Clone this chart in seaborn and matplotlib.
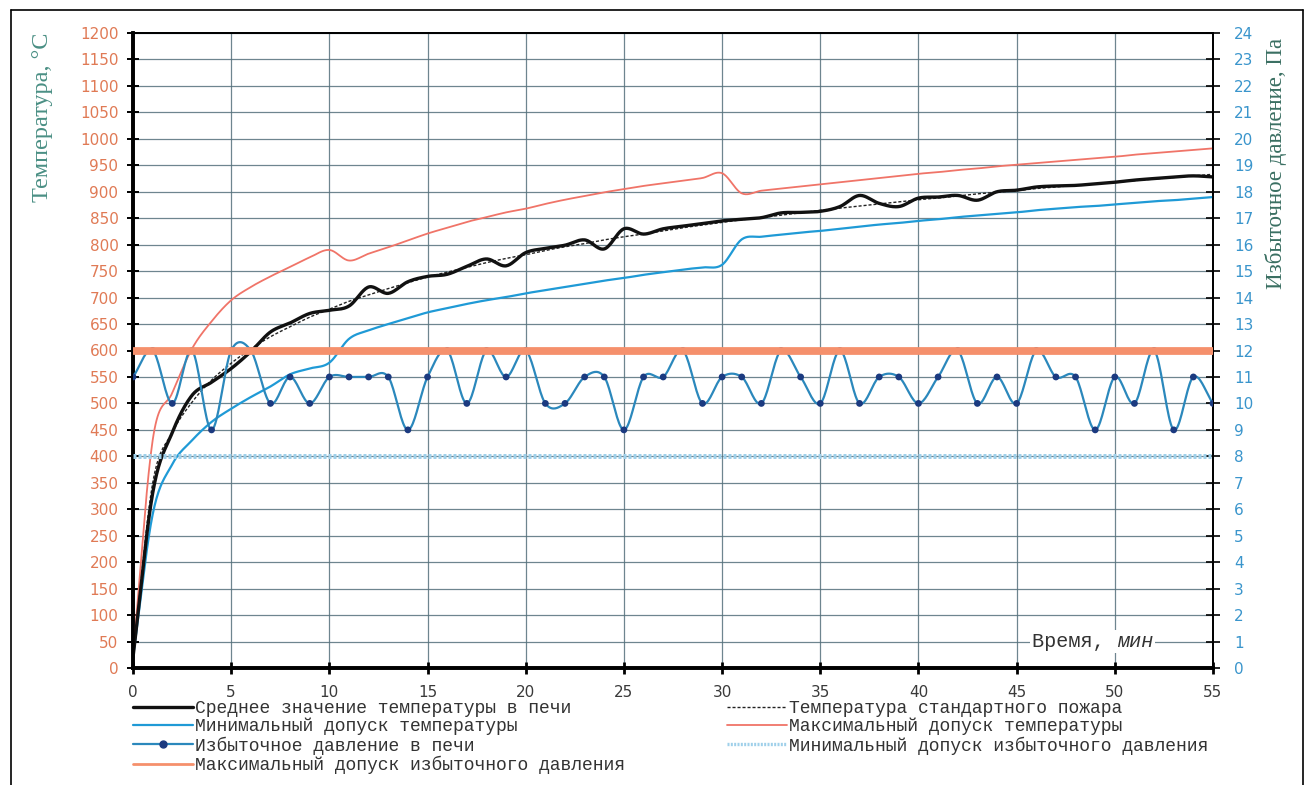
import numpy as np
import pandas as pd
import matplotlib
matplotlib.use("Agg")
import matplotlib.pyplot as plt
from matplotlib.lines import Line2D
import seaborn as sns

# ---- data -------------------------------------------------------------
minutes = list(range(56))

avg_temp = [20, 330, 445, 515, 540, 566, 598, 635, 652, 670,
            676, 684, 720, 708, 730, 740, 744, 759, 773, 760,
            785, 793, 799, 809, 792, 830, 820, 830, 835, 840,
            845, 848, 851, 860, 861, 863, 872, 893, 878, 872,
            888, 890, 893, 884, 900, 903, 909, 911, 912, 915,
            918, 922, 925, 928, 930, 928]

std_fire = [20, 349, 445, 502, 544, 576, 603, 626, 645, 663,
            678, 693, 705, 717, 728, 739, 748, 757, 766, 774,
            781, 789, 796, 802, 809, 815, 820, 826, 832, 837,
            842, 847, 851, 856, 860, 865, 869, 873, 877, 881,
            885, 888, 892, 896, 899, 902, 906, 909, 912, 915,
            918, 921, 924, 927, 930, 933]

min_temp_tol = [20, 290, 385, 430, 465, 490, 512, 532, 555, 566,
                577, 622, 638, 650, 661, 672, 680, 688, 695, 701,
                708, 714, 720, 726, 732, 737, 743, 748, 753, 757,
                762, 810, 815, 819, 823, 826, 830, 834, 838, 841,
                845, 848, 852, 855, 858, 861, 865, 868, 871, 873,
                876, 879, 882, 884, 887, 890]

max_temp_tol = [23, 430, 520, 603, 655, 695, 720, 740, 758, 776,
                790, 770, 783, 795, 808, 821, 832, 843, 852, 861,
                868, 877, 885, 892, 899, 905, 911, 916, 921, 926,
                935, 897, 902, 906, 910, 914, 918, 922, 926, 930,
                934, 937, 941, 944, 948, 951, 954, 957, 960, 963,
                966, 970, 973, 976, 979, 982]

pressure = [11, 12, 10, 12, 9, 12, 12, 10, 11, 10,
            11, 11, 11, 11, 9, 11, 12, 10, 12, 11,
            12, 10, 10, 11, 11, 9, 11, 11, 12, 10,
            11, 11, 10, 12, 11, 10, 12, 10, 11, 11,
            10, 11, 12, 10, 11, 10, 12, 11, 11, 9,
            11, 10, 12, 9, 11, 10]

pressure_max_tol = 12
pressure_min_tol = 8

temp_ticks = list(range(0, 1201, 50))
pressure_ticks = list(range(0, 25))
time_ticks = list(range(0, 56, 5))

labels = {
    "avg": "Среднее значение температуры в печи",
    "min_t": "Минимальный допуск температуры",
    "press": "Избыточное давление в печи",
    "max_p": "Максимальный допуск избыточного давления",
    "std": "Температура стандартного пожара",
    "max_t": "Максимальный допуск температуры",
    "min_p": "Минимальный допуск избыточного давления",
}


def smooth(xs, ys, steps=20):
    """Catmull-Rom spline through the points (smoothed-line rendering)."""
    x = np.asarray(xs, float)
    y = np.asarray(ys, float)
    xp = np.concatenate([[2 * x[0] - x[1]], x, [2 * x[-1] - x[-2]]])
    yp = np.concatenate([[2 * y[0] - y[1]], y, [2 * y[-1] - y[-2]]])
    s = np.linspace(0, 1, steps, endpoint=False)
    ox, oy = [], []
    for i in range(1, len(xp) - 2):
        for arr, out in ((xp, ox), (yp, oy)):
            p0, p1, p2, p3 = arr[i - 1], arr[i], arr[i + 1], arr[i + 2]
            out.append(0.5 * (2 * p1 + (-p0 + p2) * s
                              + (2 * p0 - 5 * p1 + 4 * p2 - p3) * s ** 2
                              + (-p0 + 3 * p1 - 3 * p2 + p3) * s ** 3))
    ox.append([x[-1]])
    oy.append([y[-1]])
    return np.concatenate(ox), np.concatenate(oy)


# ---- style ------------------------------------------------------------
sns.set_theme(style="white")
plt.rcParams["font.family"] = ["DejaVu Sans"]

W, H = 1311, 785
fig = plt.figure(figsize=(W / 100, H / 100), dpi=100)
fig.patch.set_facecolor("white")

L, R, T, B = 133, 1213, 33, 668
ax = fig.add_axes([L / W, 1 - B / H, (R - L) / W, (B - T) / H])
ax2 = ax.twinx()

C_AVG = "#111111"
C_MIN_T = "#1F9AD6"
C_MAX_T = "#F07468"
C_PRESS = "#2B88BC"
C_DOT = "#1B3A80"
C_MAX_P = "#F5906C"
C_MIN_P = "#9FD0EA"

# temperature curves (left axis)
for series, color, lw, ls, z in [
    (max_temp_tol, C_MAX_T, 1.3, "-", 3),
    (min_temp_tol, C_MIN_T, 1.6, "-", 3),
    (std_fire, "#222222", 1.0, (0, (2.2, 1.4)), 4),
    (avg_temp, C_AVG, 2.4, "-", 5),
]:
    sx, sy = smooth(minutes, series)
    sns.lineplot(x=sx, y=sy, ax=ax, color=color, lw=lw, linestyle=ls,
                 zorder=z, sort=False, estimator=None)

# pressure (right axis)
px, py = smooth(minutes, pressure)
sns.lineplot(x=px, y=py, ax=ax2, color=C_PRESS, lw=1.6, zorder=3,
             sort=False, estimator=None)
sns.scatterplot(x=minutes, y=pressure, ax=ax2, color=C_DOT, s=24,
                edgecolor="none", zorder=4)
for coll in ax2.collections:
    coll.set_zorder(4)
ax2.axhline(pressure_min_tol, color=C_MIN_P, lw=3.6,
            linestyle=(0, (0.6, 0.4)), zorder=8)
ax2.axhline(pressure_max_tol, color=C_MAX_P, lw=5.6, zorder=12)

# axes limits / ticks
ax.set_xlim(0, 55)
ax.set_ylim(0, 1200)
ax2.set_ylim(0, 24)
ax.set_xticks(time_ticks)
ax.set_yticks(temp_ticks)
ax2.set_yticks(pressure_ticks)
ax.set_xlabel("")
ax.set_ylabel("")
ax2.set_ylabel("")

ax.grid(True, color="#55707c", lw=0.9, alpha=0.85)
ax.set_axisbelow(True)
ax2.grid(False)
ax2.patch.set_visible(False)

ax.tick_params(axis="y", direction="inout", length=9, width=1.4,
               color="black", labelcolor="#E07A55", labelsize=11, pad=6,
               left=True)
ax.tick_params(axis="x", direction="inout", length=8, width=2.0,
               color="black", labelcolor="#3a3a3a", labelsize=11, pad=8,
               bottom=True)
ax2.tick_params(axis="y", direction="inout", length=10, width=1.2,
                color="black", labelcolor="#3A95CC", labelsize=11, pad=10,
                right=True)

for a in (ax, ax2):
    for side, sp in a.spines.items():
        sp.set_visible(True)
        sp.set_color("black")
    a.spines["left"].set_linewidth(2.6)
    a.spines["bottom"].set_linewidth(2.6)
    a.spines["top"].set_linewidth(1.3)
    a.spines["right"].set_linewidth(1.3)

# axis titles
fig.text(43 / W, 1 - 33 / H, "Температура, °С", rotation=90, ha="center",
         va="top", fontsize=17.5, color="#4A8F84", family="Liberation Serif")
fig.text(1276 / W, 1 - 38 / H, "Избыточное давление, Па", rotation=90,
         ha="center", va="top", fontsize=16.5, color="#3A6F62",
         family="Liberation Serif")

# time caption inside the plot
cap_kw = dict(va="center", fontsize=14.5, family="Liberation Mono",
              color="#333333", zorder=10,
              bbox=dict(facecolor="white", edgecolor="none", pad=1.5))
ax.text(50.1, 50, "Время, ", ha="right", **cap_kw)
ax.text(50.1, 50, "мин", ha="left", style="italic", **cap_kw)

# legends
h_avg = Line2D([], [], color=C_AVG, lw=2.4)
h_min_t = Line2D([], [], color=C_MIN_T, lw=1.6)
h_press = Line2D([], [], color=C_PRESS, lw=1.6, marker="o", markersize=5,
                 markerfacecolor=C_DOT, markeredgecolor=C_DOT)
h_max_p = Line2D([], [], color=C_MAX_P, lw=2.0)
h_std = Line2D([], [], color="#222222", lw=1.0, linestyle=(0, (2.2, 1.4)))
h_max_t = Line2D([], [], color=C_MAX_T, lw=1.3)
h_min_p = Line2D([], [], color=C_MIN_P, lw=2.4, linestyle=(0, (0.6, 0.4)))

leg_kw = dict(frameon=False, loc="upper left", handlelength=3.3,
              handletextpad=0.15, labelspacing=0.05, borderpad=0,
              borderaxespad=0,
              prop={"family": "Liberation Mono", "size": 13})
leg1 = fig.legend([h_avg, h_min_t, h_press, h_max_p],
                  [labels["avg"], labels["min_t"], labels["press"],
                   labels["max_p"]],
                  bbox_to_anchor=(133 / W, 1 - 700 / H), **leg_kw)
leg2 = fig.legend([h_std, h_max_t, h_min_p],
                  [labels["std"], labels["max_t"], labels["min_p"]],
                  bbox_to_anchor=(727 / W, 1 - 700 / H), **leg_kw)
for lg in (leg1, leg2):
    for t in lg.get_texts():
        t.set_color("#333333")

# outer frame of the sheet
for xs, ys in [((11, 11), (10, H + 5)), ((11, 1303), (10, 10)),
               ((1303, 1303), (10, H + 5))]:
    fig.add_artist(Line2D([x / W for x in xs], [1 - y / H for y in ys],
                          transform=fig.transFigure, color="black", lw=1.2))

fig.savefig("out.png", dpi=100, facecolor="white")
